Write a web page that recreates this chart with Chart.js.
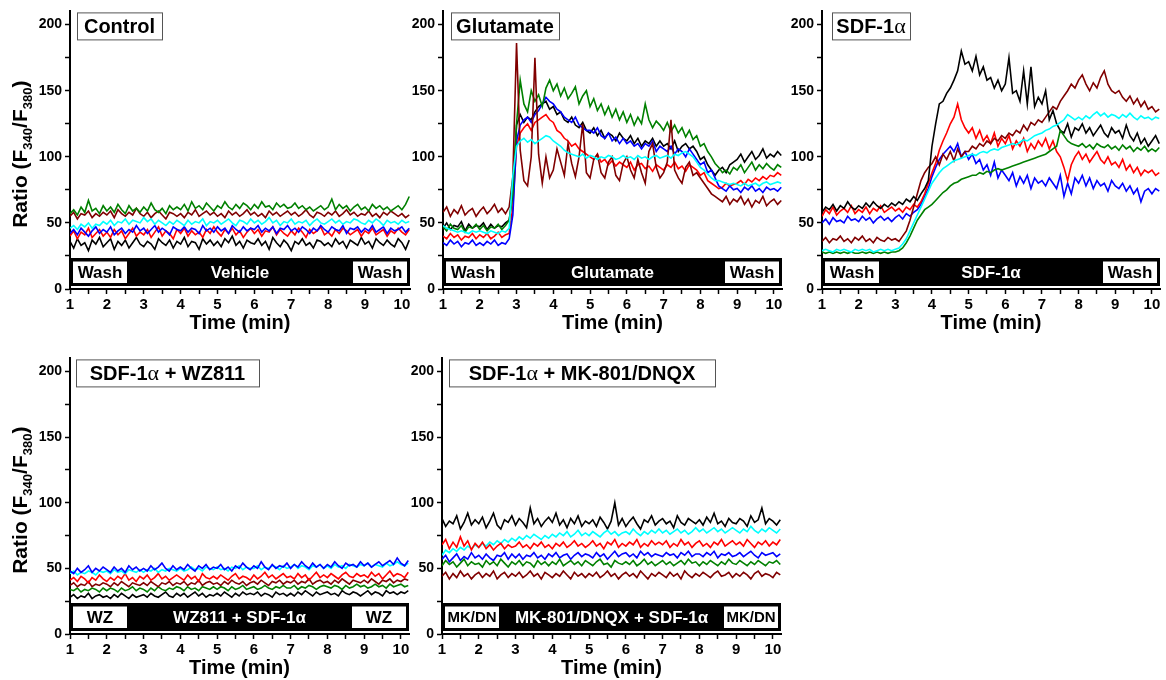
<!DOCTYPE html>
<html>
<head>
<meta charset="utf-8">
<script src="https://cdn.jsdelivr.net/npm/chart.js@4.4.1/dist/chart.umd.min.js"></script>
<style>
  html, body { margin: 0; padding: 0; background: #fff; }
  body { width: 1166px; height: 680px; position: relative; overflow: hidden; }
  canvas { position: absolute; }
</style>
</head>
<body>
<script>
// ---- Data (ratio F340/F380 vs time in min) ----

var times = [
  1.0,1.1,1.2,1.3,1.4,1.5,1.6,1.7,1.8,1.9,
  2.0,2.1,2.2,2.3,2.4,2.5,2.6,2.7,2.8,2.9,
  3.0,3.1,3.2,3.3,3.4,3.5,3.6,3.7,3.8,3.9,
  4.0,4.1,4.2,4.3,4.4,4.5,4.6,4.7,4.8,4.9,
  5.0,5.1,5.2,5.3,5.4,5.5,5.6,5.7,5.8,5.9,
  6.0,6.1,6.2,6.3,6.4,6.5,6.6,6.7,6.8,6.9,
  7.0,7.1,7.2,7.3,7.4,7.5,7.6,7.7,7.8,7.9,
  8.0,8.1,8.2,8.3,8.4,8.5,8.6,8.7,8.8,8.9,
  9.0,9.1,9.2,9.3,9.4,9.5,9.6,9.7,9.8,9.9,
  10.0,10.1,10.2
];

// Control
var controlBlack = [
  36,31,38,33,35,29,37,34,39,32, 35,38,30,36,33,37,31,35,39,34,
  32,36,34,30,38,35,33,37,31,36, 34,39,32,36,35,30,38,34,37,33,
  36,32,38,35,40,33,36,31,37,35, 34,38,33,36,30,39,35,32,37,34,
  29,36,34,38,33,35,31,37,36,33, 35,32,38,34,36,31,37,35,33,39,
  34,36,31,38,35,33,37,34,32,38, 35,30,37
];
var controlRed = [
  40,44,38,43,41,46,39,42,45,40, 43,39,45,41,44,38,42,46,40,43,
  41,45,39,43,47,40,44,42,38,45, 42,46,40,44,41,43,39,45,42,47,
  43,40,45,42,46,41,44,39,43,46, 42,45,40,44,43,47,41,45,42,40,
  44,41,46,43,39,45,42,44,47,41, 43,40,45,42,46,44,41,43,45,40,
  44,42,46,41,43,45,40,44,42,46, 43,41,45
];
var controlBlue = [
  42,45,41,46,43,40,44,47,42,45, 43,47,41,44,46,42,45,43,48,44,
  46,42,45,48,43,46,44,41,47,45, 44,47,43,46,45,42,48,44,46,43,
  47,44,46,42,48,45,43,47,44,46, 45,48,43,46,44,47,42,46,45,48,
  44,46,43,47,45,42,46,44,48,45, 43,47,45,44,48,42,46,45,47,43,
  46,44,48,43,45,47,42,46,44,45, 47,43,46
];
var controlCyan = [
  46,48,45,49,47,50,46,49,48,51, 49,52,48,51,50,53,49,52,51,50,
  54,51,53,49,52,50,48,51,49,52, 50,48,52,49,51,50,53,48,51,50,
  52,49,51,53,50,48,52,51,49,53, 50,52,49,51,54,50,52,48,51,50,
  53,49,51,50,52,48,51,53,50,49, 51,53,50,52,49,51,50,53,52,50,
  49,52,50,53,51,48,52,50,51,49, 52,50,51
];
var controlMaroon = [
  55,58,53,57,56,59,54,57,55,58, 56,59,54,60,57,55,58,56,61,57,
  55,58,54,57,59,56,53,58,57,55, 57,54,58,56,60,55,57,59,56,58,
  55,57,54,59,56,58,55,57,60,56, 58,55,57,54,59,56,58,55,57,59,
  56,58,55,57,60,56,54,58,57,55, 58,56,59,55,57,60,56,58,55,57,
  56,59,55,57,54,58,56,59,57,55, 57,54,56
];
var controlGreen = [
  57,60,56,62,58,67,59,61,57,63, 59,62,58,64,60,57,63,59,61,58,
  62,59,65,60,58,61,57,63,60,62, 60,64,59,66,61,63,60,65,62,59,
  63,61,66,62,60,64,61,65,63,60, 64,61,66,62,63,60,65,62,64,61,
  62,65,61,63,60,62,59,61,63,60, 62,68,60,64,61,63,59,62,64,60,
  62,59,64,61,63,60,62,59,61,63, 60,64,70
];

// Glutamate
var gluBlack = [
  46,50,45,48,47,51,44,49,46,48, 47,50,45,49,46,48,47,50,52,72,
  124,132,126,130,128,134,138,140,142,136, 138,132,134,128,126,130,124,122,126,120,
  118,122,116,120,114,118,116,112,118,114, 112,116,110,114,108,112,110,114,108,112,
  108,110,106,112,104,108,110,106,108,104, 98,100,94,90,86,90,92,88,94,96,
  98,102,96,100,104,98,101,106,99,102, 100,104,101
];
var gluRed = [
  40,38,42,39,41,37,40,39,42,38, 41,39,42,38,40,43,39,41,42,62,
  108,118,122,125,120,126,128,130,132,128, 126,120,118,114,112,108,110,106,104,102,
  100,98,102,96,98,94,97,93,96,94, 92,96,90,94,95,91,93,89,94,92,
  90,94,92,96,91,93,89,94,92,90, 86,88,82,80,78,76,77,80,78,79,
  80,82,79,83,81,84,82,85,83,86, 85,88,86
];
var gluBlue = [
  35,33,37,34,36,32,35,34,37,33, 35,33,36,34,37,33,35,34,38,56,
  112,124,128,130,126,132,135,140,145,142, 140,136,134,130,128,126,130,124,122,120,
  120,118,122,116,114,118,112,115,110,114, 110,112,108,110,106,110,108,112,104,108,
  106,104,108,102,106,104,100,106,102,98, 94,96,88,90,84,78,76,74,78,75,
  76,73,77,75,78,74,76,73,77,75, 76,74,77
];
var gluCyan = [
  48,46,45,44,43,44,43,42,44,43, 44,43,42,44,43,42,44,43,46,86,
  108,112,114,111,113,110,112,114,116,115, 112,110,108,105,103,102,101,100,102,99,
  101,100,98,100,99,101,100,98,99,101, 99,100,98,101,99,100,98,100,101,99,
  100,101,99,102,101,103,104,102,100,96, 92,90,87,84,82,82,81,80,79,80,
  79,78,80,78,79,80,78,80,81,79, 80,81,80
];
var gluMaroon = [
  58,62,55,60,57,63,56,59,61,55, 59,62,57,60,64,58,61,57,62,85,
  186,105,82,78,100,175,102,80,100,84, 90,106,96,86,110,95,85,100,125,88,
  84,98,102,88,84,96,100,86,82,95, 100,90,84,98,88,80,104,110,92,84,
  88,96,128,90,84,80,92,96,86,88, 84,80,76,72,70,68,66,70,64,68,
  66,70,64,68,62,67,65,70,63,66, 68,64,67
];
var gluGreen = [
  47,44,49,46,45,48,43,47,46,49, 45,48,44,47,46,49,45,48,52,72,
  125,158,140,134,150,142,147,138,152,158, 150,155,146,152,144,148,153,140,146,150,
  138,144,135,140,132,138,130,136,128,134, 126,132,124,130,125,140,128,122,127,124,
  120,126,119,124,118,122,115,120,113,116, 108,110,104,100,95,92,88,90,87,92,
  90,94,88,92,96,90,94,91,95,92, 90,94,92
];

// SDF-1a
var sdfBlack = [
  58,62,60,64,59,63,61,66,62,60, 63,61,65,62,66,63,61,64,62,65,
  63,66,64,68,66,70,67,72,76,82, 108,125,140,142,148,152,158,165,180,170,
  172,165,176,162,168,158,160,152,158,150, 155,175,148,150,142,165,140,168,138,145,
  140,150,128,135,125,120,118,125,115,122, 120,125,118,122,116,120,124,118,115,122,
  118,120,114,124,116,112,118,110,114,108, 112,116,110
];
var sdfRed = [
  55,60,57,62,56,59,61,58,63,57, 60,58,62,57,61,59,63,58,60,62,
  59,61,58,62,60,64,62,66,72,80, 88,95,105,112,118,125,130,140,128,122,
  118,122,114,120,112,116,110,118,108,114, 110,116,106,112,108,114,104,110,106,112,
  108,114,106,112,104,100,92,82,94,100, 104,98,102,96,100,104,98,95,100,94,
  96,92,98,90,94,88,92,86,90,88, 90,86,88
];
var sdfBlue = [
  50,53,49,54,51,52,50,55,52,53, 51,55,52,54,50,53,55,52,54,51,
  54,56,53,57,55,58,60,64,70,76, 85,92,98,102,105,108,104,110,100,104,
  98,102,95,98,90,94,86,96,84,90, 86,82,88,78,85,80,86,76,84,80,
  82,78,84,80,76,86,70,80,72,84, 80,86,78,84,76,82,78,80,74,82,
  78,76,80,74,78,72,76,66,74,76, 72,76,74
];
var sdfCyan = [
  29,30,29,28,30,29,30,29,28,30, 29,30,29,30,28,29,30,29,30,29,
  30,31,34,38,44,50,56,62,68,74, 80,84,88,91,93,95,97,98,99,100,
  101,102,101,103,104,103,105,106,105,107, 108,109,110,109,111,113,112,114,116,117,
  118,120,121,123,124,126,128,132,130,128, 130,128,131,129,132,134,131,133,130,132,
  131,129,132,130,133,130,128,131,129,130, 128,130,129
];
var sdfMaroon = [
  36,39,35,38,37,40,36,38,35,39, 37,40,36,38,35,39,37,36,39,37,
  38,36,40,44,52,62,72,82,88,92, 95,100,94,102,98,104,97,106,100,104,
  104,108,106,110,108,112,110,114,112,116, 114,118,116,120,118,124,120,126,124,128,
  126,130,134,138,136,142,146,150,155,152, 158,162,155,150,156,152,160,165,155,150,
  148,150,145,142,146,140,144,138,142,136, 138,134,136
];
var sdfGreen = [
  28,27,28,27,28,27,28,27,28,27, 27,28,27,28,27,28,27,28,27,28,
  28,29,31,35,40,46,52,56,60,62, 64,67,70,73,75,78,80,81,83,84,
  85,86,86,88,87,89,88,90,91,90, 91,92,93,94,95,96,97,98,99,100,
  101,102,104,106,108,120,116,112,110,109, 108,110,107,109,106,110,108,107,109,106,
  108,105,109,106,108,104,107,105,108,104, 106,104,107
];

// SDF-1a + WZ811
var wzBlack = [
  28,30,27,29,28,31,27,29,30,28, 29,27,30,28,31,29,27,30,28,29,
  30,28,31,29,28,30,32,29,28,31, 29,31,28,30,32,29,31,28,30,29,
  31,29,32,30,28,31,29,32,30,31, 30,32,29,31,30,28,32,30,31,29,
  31,29,32,30,33,31,29,32,30,31, 32,30,31,29,33,31,30,32,31,29,
  31,33,30,32,31,29,33,31,32,30, 32,31,33
];
var wzRed = [
  41,43,40,44,42,39,43,41,45,42, 40,43,41,44,42,46,41,43,40,44,
  42,45,41,43,46,42,44,41,43,45, 43,41,45,42,44,40,46,43,42,44,
  42,45,43,41,44,46,42,44,43,41, 45,42,44,47,43,45,42,44,46,43,
  44,42,46,43,45,41,44,47,43,45, 43,46,44,42,45,47,44,43,46,44,
  45,43,47,44,46,42,45,48,44,46, 45,43,47
];
var wzBlue = [
  48,46,50,47,49,52,47,50,48,51, 49,47,51,48,50,47,52,49,51,48,
  50,48,52,49,51,54,50,48,52,49, 51,49,53,50,48,52,50,53,49,51,
  50,53,49,51,48,52,50,54,51,49, 52,50,55,51,49,53,50,52,51,54,
  50,53,51,55,52,50,54,51,53,50, 53,51,55,52,50,54,52,53,51,55,
  52,54,51,53,55,52,54,56,53,58, 54,52,56
];
var wzCyan = [
  46,48,45,47,46,48,47,45,48,47, 48,46,49,47,48,46,49,48,47,49,
  47,49,48,50,47,49,48,50,49,48, 50,48,49,51,49,50,48,51,50,49,
  51,49,50,48,51,50,52,49,51,50, 50,52,49,51,50,52,51,49,52,50,
  51,53,50,52,51,49,52,51,53,50, 52,50,53,51,52,50,53,52,51,53,
  52,54,51,53,52,51,54,52,53,55, 53,52,54
];
var wzMaroon = [
  37,39,36,38,37,40,36,38,37,39, 38,36,39,37,40,38,36,39,38,37,
  39,37,40,38,36,39,38,40,37,39, 38,40,37,39,38,41,37,39,40,38,
  39,37,40,38,41,39,38,40,37,39, 40,38,41,39,37,40,39,41,38,40,
  39,41,38,40,39,42,38,40,41,39, 40,38,41,39,42,40,38,41,40,39,
  41,39,42,40,38,41,40,42,39,41, 40,42,41
];
var wzGreen = [
  34,33,35,32,34,33,35,34,32,35, 33,35,34,32,35,33,34,36,33,35,
  34,32,35,33,36,34,33,35,34,36, 35,33,36,34,35,33,36,35,34,36,
  34,36,35,33,36,34,35,37,34,35, 36,34,35,37,35,34,36,35,37,35,
  35,37,34,36,35,37,36,34,36,37, 36,35,37,36,34,37,35,36,38,36,
  37,35,36,38,36,37,35,38,36,37, 38,36,37
];

// SDF-1a + MK-801/DNQX
var mkBlack = [
  88,82,86,84,90,80,85,92,83,87, 84,89,81,86,92,83,80,87,85,90,
  83,88,85,81,96,84,88,82,86,89, 85,92,83,87,81,88,84,90,82,86,
  84,87,82,89,85,80,86,100,83,88, 82,86,89,84,80,87,85,90,83,86,
  88,84,86,81,90,85,83,88,86,84, 87,83,89,85,92,84,86,82,88,85,
  84,88,86,82,90,85,87,96,84,88, 86,83,87
];
var mkRed = [
  68,72,65,70,66,74,67,71,64,69, 66,70,65,68,64,67,69,65,68,66,
  67,70,66,68,65,69,67,70,66,68, 65,69,67,70,66,68,71,67,69,66,
  68,71,67,69,65,70,68,72,66,69, 67,70,68,72,66,69,67,71,68,70,
  68,71,66,69,67,72,68,70,66,69, 71,67,69,66,70,68,72,67,69,71,
  68,70,67,72,69,66,70,68,71,67, 70,68,72
];
var mkBlue = [
  57,60,55,58,61,56,59,57,62,58, 60,57,61,58,56,60,59,62,57,61,
  58,61,57,60,59,62,58,60,57,61, 59,62,58,60,61,57,60,62,59,61,
  60,58,62,59,61,57,60,63,59,61, 62,59,61,58,63,60,62,59,61,60,
  59,62,60,61,58,62,60,63,59,61, 61,59,62,60,63,58,61,60,62,59,
  60,62,59,61,63,60,58,62,60,61, 62,59,61
];
var mkCyan = [
  60,64,62,65,63,66,64,67,65,68, 66,69,67,70,68,71,69,72,70,73,
  71,74,72,75,73,76,74,72,75,73, 76,74,77,75,78,74,76,79,75,77,
  75,78,76,74,77,79,76,78,75,77, 78,76,80,77,75,78,76,79,77,80,
  77,79,76,78,80,77,79,76,78,81, 78,80,77,79,81,78,80,77,79,81,
  79,77,80,78,82,79,77,80,78,81, 79,77,80
];
var mkMaroon = [
  44,47,42,46,43,48,44,46,42,45, 47,43,46,44,48,42,45,47,43,46,
  44,47,43,45,48,44,46,42,47,45, 43,46,44,48,45,42,47,44,46,43,
  46,44,47,43,45,48,44,46,42,45, 47,44,46,43,48,45,42,46,44,47,
  45,43,47,44,46,42,48,45,43,46, 44,47,45,43,46,48,44,45,47,43,
  46,44,47,45,42,46,48,44,46,45, 43,47,45
];
var mkGreen = [
  52,56,53,55,51,54,57,52,55,53, 54,51,56,53,55,52,57,54,51,55,
  53,56,52,55,54,51,56,53,55,52, 55,53,57,52,54,56,53,55,52,56,
  54,52,55,57,53,54,51,56,54,53, 55,53,56,52,54,57,53,55,52,54,
  56,53,55,52,54,56,53,57,54,55, 52,55,53,56,54,52,55,53,57,54,
  53,56,54,52,55,53,56,54,52,55, 54,56,53
];

var yTickLabels = [0, 50, 100, 150, 200];
var xTickLabels = [1, 2, 3, 4, 5, 6, 7, 8, 9, 10];

// ---- Drawing ----

var FONT = '"Liberation Sans", Arial, Helvetica, sans-serif';
var SERIF = '"Liberation Serif", "DejaVu Serif", serif';
Chart.defaults.font.family = FONT;
Chart.defaults.color = '#000';

var COLORS = {
  black: '#000000', red: '#ff0000', blue: '#0000ff',
  green: '#008000', maroon: '#800000', cyan: '#00ffff'
};

// first in list is drawn on top
var panels = [
  { L: 70, R: 410, T: 10, B: 289, yTitle: true,
    title: [['Control', 'b']], boxX: 7, boxW: 85,
    band: ['Wash', 'Vehicle', 'Wash'], sideFont: 17,
    traces: [['cyan', controlCyan], ['green', controlGreen], ['maroon', controlMaroon],
             ['blue', controlBlue], ['red', controlRed], ['black', controlBlack]] },
  { L: 443, R: 782, T: 10, B: 289, yTitle: false,
    title: [['Glutamate', 'b']], boxX: 8, boxW: 108,
    band: ['Wash', 'Glutamate', 'Wash'], sideFont: 17,
    traces: [['cyan', gluCyan], ['maroon', gluMaroon], ['green', gluGreen],
             ['blue', gluBlue], ['red', gluRed], ['black', gluBlack]] },
  { L: 822, R: 1160, T: 10, B: 289, yTitle: false,
    title: [['SDF-1', 'b'], ['\u03b1', 's']], boxX: 10, boxW: 78,
    band: ['Wash', 'SDF-1\u03b1', 'Wash'], sideFont: 17,
    traces: [['cyan', sdfCyan], ['green', sdfGreen], ['black', sdfBlack],
             ['maroon', sdfMaroon], ['red', sdfRed], ['blue', sdfBlue]] },
  { L: 70, R: 409, T: 357, B: 634, yTitle: true,
    title: [['SDF-1', 'b'], ['\u03b1', 's'], [' + WZ811', 'b']], boxX: 6, boxW: 183,
    band: ['WZ', 'WZ811 + SDF-1\u03b1', 'WZ'], sideFont: 17,
    traces: [['blue', wzBlue], ['cyan', wzCyan], ['red', wzRed],
             ['maroon', wzMaroon], ['green', wzGreen], ['black', wzBlack]] },
  { L: 442, R: 781, T: 357, B: 634, yTitle: false,
    title: [['SDF-1', 'b'], ['\u03b1', 's'], [' + MK-801/DNQX', 'b']], boxX: 7, boxW: 266,
    band: ['MK/DN', 'MK-801/DNQX + SDF-1\u03b1', 'MK/DN'], sideFont: 15,
    traces: [['maroon', mkMaroon], ['green', mkGreen], ['blue', mkBlue],
             ['red', mkRed], ['cyan', mkCyan], ['black', mkBlack]] }
];

function partFont(kind) {
  return kind === 's' ? '22px ' + SERIF : 'bold 20px ' + FONT;
}

function makeDeco(p) {
  return {
    id: 'deco',
    afterDraw: function(chart) {
      var ctx = chart.ctx, a = chart.chartArea;
      ctx.save();

      // treatment bar along the bottom
      var bt = a.bottom - 31, bb = a.bottom - 3;
      ctx.fillStyle = '#000';
      ctx.fillRect(a.left, bt, a.right - a.left, bb - bt);
      var y0 = a.bottom - 27.5, y1 = a.bottom - 6, bw = 54;
      ctx.fillStyle = '#fff';
      ctx.fillRect(a.left + 3, y0, bw, y1 - y0);
      ctx.fillRect(a.right - 3 - bw, y0, bw, y1 - y0);
      var cy = (y0 + y1) / 2 + 1;
      ctx.textAlign = 'center';
      ctx.textBaseline = 'middle';
      ctx.fillStyle = '#000';
      ctx.font = 'bold ' + p.sideFont + 'px ' + FONT;
      ctx.fillText(p.band[0], a.left + 3 + bw / 2, cy);
      ctx.fillText(p.band[2], a.right - 3 - bw / 2, cy);
      ctx.fillStyle = '#fff';
      ctx.font = 'bold 17px ' + FONT;
      ctx.fillText(p.band[1], (a.left + a.right) / 2, cy);

      // title box
      var bx = a.left + p.boxX, by = a.top + 1;
      ctx.fillStyle = '#fff';
      ctx.fillRect(bx, by, p.boxW, 27);
      ctx.strokeStyle = '#555';
      ctx.lineWidth = 1;
      ctx.strokeRect(bx + 0.5, by + 0.5, p.boxW, 27);
      var total = 0;
      p.title.forEach(function(t) { ctx.font = partFont(t[1]); total += ctx.measureText(t[0]).width; });
      var tx = bx + p.boxW / 2 - total / 2;
      ctx.textAlign = 'left';
      ctx.textBaseline = 'alphabetic';
      ctx.fillStyle = '#000';
      p.title.forEach(function(t) {
        ctx.font = partFont(t[1]);
        ctx.fillText(t[0], tx, by + 21);
        tx += ctx.measureText(t[0]).width;
      });

      // y axis title with subscripts
      if (p.yTitle) {
        var parts = [['Ratio (F', 0], ['340', 1], ['/F', 0], ['380', 1], [')', 0]];
        var big = 'bold 21px ' + FONT, small = 'bold 13px ' + FONT;
        var w = 0;
        parts.forEach(function(q) { ctx.font = q[1] ? small : big; w += ctx.measureText(q[0]).width; });
        ctx.translate(a.left - 43, (a.top + a.bottom) / 2 + 4);
        ctx.rotate(-Math.PI / 2);
        var x = -w / 2;
        parts.forEach(function(q) {
          ctx.font = q[1] ? small : big;
          ctx.fillText(q[0], x, q[1] ? 5 : 0);
          x += ctx.measureText(q[0]).width;
        });
      }
      ctx.restore();
    }
  };
}

function makePanel(p) {
  var cv = document.createElement('canvas');
  var W = p.R - p.L + 84, H = p.B - p.T + 56;
  cv.width = W; cv.height = H;
  cv.style.width = W + 'px'; cv.style.height = H + 'px';
  cv.style.left = (p.L - 70) + 'px';
  cv.style.top = (p.T - 10) + 'px';
  document.body.appendChild(cv);

  var datasets = p.traces.map(function(tr) {
    return {
      data: times.map(function(t, i) { return { x: t, y: tr[1][i] }; }),
      borderColor: COLORS[tr[0]],
      borderWidth: 1.6,
      pointRadius: 0,
      tension: 0,
      fill: false
    };
  });

  new Chart(cv, {
    type: 'line',
    data: { datasets: datasets },
    options: {
      responsive: false,
      animation: false,
      events: [],
      layout: { padding: { left: 30, right: 14, top: 10, bottom: 0 } },
      plugins: { legend: { display: false }, tooltip: { enabled: false } },
      scales: {
        x: {
          type: 'linear', min: 1, max: 10.22,
          afterFit: function(s) { s.height = 46; },
          border: { color: '#000', width: 2 },
          grid: { drawOnChartArea: false, color: '#000', tickLength: 5, tickWidth: 1.5 },
          ticks: {
            stepSize: 0.5, includeBounds: false, autoSkip: false, maxRotation: 0, padding: 2,
            font: { size: 15, weight: 'bold' },
            callback: function(v) {
              var r = Math.round(v);
              return (Math.abs(v - r) < 1e-6 && xTickLabels.indexOf(r) >= 0) ? String(r) : '';
            }
          },
          title: { display: true, text: 'Time (min)', font: { size: 20, weight: 'bold' }, padding: { top: 0, bottom: 0 } }
        },
        y: {
          min: 0, max: 210,
          afterFit: function(s) { s.width = 40; },
          border: { color: '#000', width: 2 },
          grid: { drawOnChartArea: false, color: '#000', tickLength: 5, tickWidth: 1.5 },
          ticks: {
            stepSize: 25, includeBounds: false, padding: 3,
            font: { size: 14, weight: 'bold' },
            callback: function(v) { return yTickLabels.indexOf(v) >= 0 ? String(v) : ''; }
          }
        }
      }
    },
    plugins: [makeDeco(p)]
  });
}

panels.forEach(makePanel);
</script>
</body>
</html>
